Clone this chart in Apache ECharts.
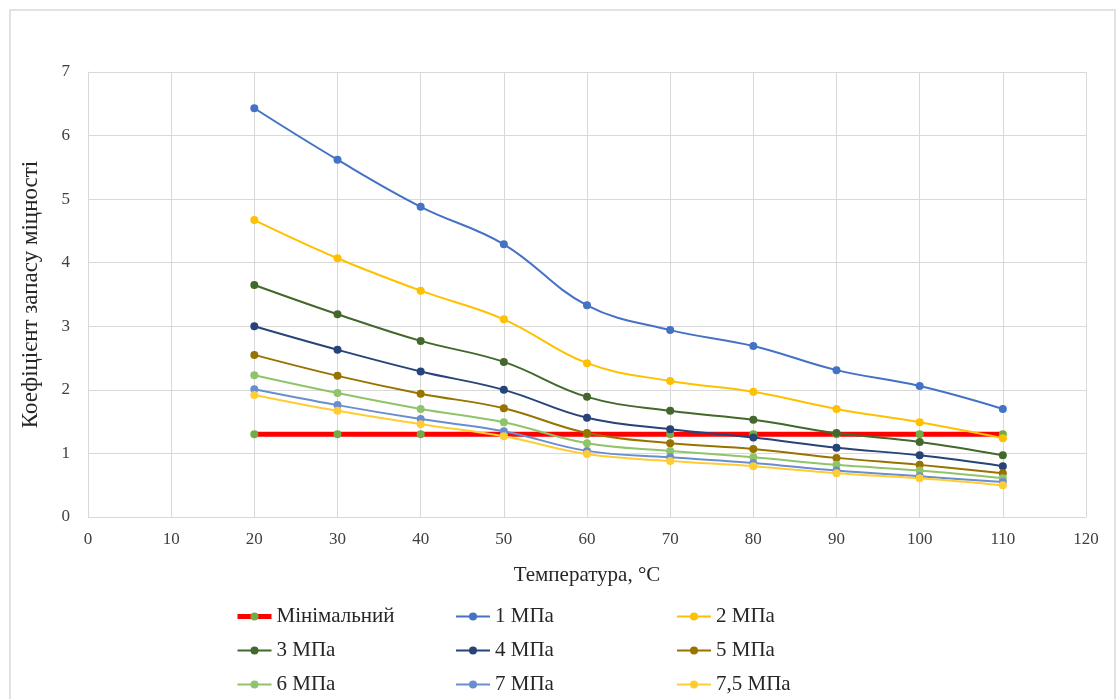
<!DOCTYPE html>
<html>
<head>
<meta charset="utf-8">
<script src="https://cdn.jsdelivr.net/npm/echarts@6/dist/echarts.min.js"></script>
<style>
  html, body { margin: 0; padding: 0; background: #fff; }
  #chart { width: 1117px; height: 699px; }
</style>
</head>
<body>
<div id="chart"></div>
<script>
// температура, °C
var temps = [20, 30, 40, 50, 60, 70, 80, 90, 100, 110];

// коефіцієнт запасу міцності для кожного тиску
var minimal = [1.3, 1.3, 1.3, 1.3, 1.3, 1.3, 1.3, 1.3, 1.3, 1.3];
var p1 = [6.43, 5.62, 4.88, 4.29, 3.33, 2.94, 2.69, 2.31, 2.06, 1.70];
var p2 = [4.67, 4.07, 3.56, 3.11, 2.42, 2.14, 1.97, 1.70, 1.49, 1.24];
var p3 = [3.65, 3.19, 2.77, 2.44, 1.89, 1.67, 1.53, 1.32, 1.18, 0.97];
var p4 = [3.00, 2.63, 2.29, 2.00, 1.56, 1.38, 1.25, 1.09, 0.97, 0.80];
var p5 = [2.55, 2.22, 1.94, 1.71, 1.32, 1.16, 1.07, 0.93, 0.82, 0.69];
var p6 = [2.23, 1.95, 1.70, 1.49, 1.16, 1.04, 0.94, 0.82, 0.73, 0.61];
var p7 = [2.01, 1.76, 1.54, 1.35, 1.04, 0.94, 0.85, 0.73, 0.64, 0.55];
var p75 = [1.92, 1.67, 1.46, 1.27, 0.99, 0.88, 0.80, 0.69, 0.61, 0.50];

var xTicks = [0, 10, 20, 30, 40, 50, 60, 70, 80, 90, 100, 110, 120];
var yTicks = [0, 1, 2, 3, 4, 5, 6, 7];

var names = ['Мінімальний', '1 МПа', '2 МПа', '3 МПа', '4 МПа', '5 МПа', '6 МПа', '7 МПа', '7,5 МПа'];
var values = [minimal, p1, p2, p3, p4, p5, p6, p7, p75];
var colors = ['#FF0000', '#4472C4', '#FFC000', '#43682B', '#264478', '#997300', '#8FC46A', '#698ED0', '#FFCD33'];

var fontFam = '"Liberation Serif", "DejaVu Serif", serif';

function pairs(arr) {
    var out = [];
    for (var i = 0; i < temps.length; i++) {
        out.push([temps[i], arr[i]]);
    }
    return out;
}

var series = [];
for (var i = 0; i < names.length; i++) {
    var isMin = i === 0;
    series.push({
        name: names[i],
        type: 'line',
        data: pairs(values[i]),
        smooth: isMin ? false : 0.4,
        symbol: 'circle',
        symbolSize: 8,
        z: isMin ? 1 : 2,
        lineStyle: {
            color: colors[i],
            width: isMin ? 5 : 2
        },
        itemStyle: {
            color: isMin ? '#70AD47' : colors[i]
        }
    });
}

// легенда по колонках
function legendCol(left, data) {
    return {
        left: left,
        top: 606,
        padding: 0,
        orient: 'vertical',
        itemGap: 13,
        itemWidth: 34,
        itemHeight: 10,
        data: data,
        textStyle: {
            fontFamily: fontFam,
            fontSize: 21,
            color: '#262626'
        }
    };
}

var myChart = echarts.init(document.getElementById('chart'));
var option = {
    backgroundColor: '#fff',
    animation: false,
    color: colors,
    graphic: [{
        type: 'rect',
        shape: { x: 10, y: 10, width: 1105, height: 700 },
        style: { fill: 'none', stroke: '#D9D9D9', lineWidth: 1.5 },
        silent: true
    }],
    grid: {
        left: 88,
        right: 31,
        top: 72,
        bottom: 182
    },
    legend: [
        legendCol(235, [{ name: 'Мінімальний', lineStyle: { width: 5 } }, '3 МПа', '6 МПа']),
        legendCol(455, ['1 МПа', '4 МПа', '7 МПа']),
        legendCol(676, ['2 МПа', '5 МПа', '7,5 МПа'])
    ],
    xAxis: {
        type: 'value',
        min: 0,
        max: 120,
        interval: 10,
        name: 'Температура, °C',
        nameLocation: 'middle',
        nameGap: 48,
        nameTextStyle: {
            fontFamily: fontFam,
            fontSize: 21,
            color: '#262626'
        },
        axisLine: { show: true, lineStyle: { color: '#D9D9D9' } },
        axisTick: { show: false },
        axisLabel: {
            fontFamily: fontFam,
            fontSize: 17,
            color: '#404040',
            margin: 14,
            formatter: function(v) {
                return xTicks.indexOf(v) >= 0 ? v : '';
            }
        },
        splitLine: { show: true, lineStyle: { color: '#D9D9D9', width: 1 } }
    },
    yAxis: {
        type: 'value',
        min: 0,
        max: 7,
        interval: 1,
        name: 'Коефіцієнт запасу міцності',
        nameLocation: 'middle',
        nameGap: 46,
        nameTextStyle: {
            fontFamily: fontFam,
            fontSize: 23,
            color: '#262626'
        },
        axisLine: { show: true, lineStyle: { color: '#D9D9D9' } },
        axisTick: { show: false },
        axisLabel: {
            fontFamily: fontFam,
            fontSize: 17,
            color: '#404040',
            margin: 18,
            formatter: function(v) {
                return yTicks.indexOf(v) >= 0 ? v : '';
            }
        },
        splitLine: { show: true, lineStyle: { color: '#D9D9D9', width: 1 } }
    },
    series: series
};
myChart.setOption(option);
window.addEventListener("resize", function() {
    myChart.resize();
});
</script>
</body>
</html>
